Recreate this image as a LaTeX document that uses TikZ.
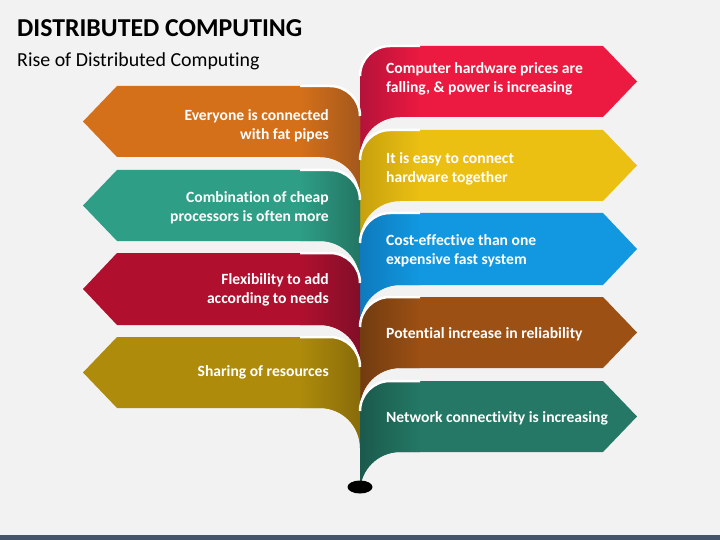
\documentclass[tikz,border=0pt]{standalone}
\usepackage{fontspec}
\setmainfont{Carlito}[Ligatures=NoCommon]
\definecolor{bg}{HTML}{F2F2F2}
\definecolor{barcol}{HTML}{44546A}
\definecolor{redA}{HTML}{EC1940}\definecolor{redB}{HTML}{B0123A}
\definecolor{oraA}{HTML}{D4701A}\definecolor{oraB}{HTML}{A0561C}
\definecolor{yelA}{HTML}{EBC012}\definecolor{yelB}{HTML}{C49E0E}
\definecolor{teaA}{HTML}{2E9E86}\definecolor{teaB}{HTML}{22725F}
\definecolor{bluA}{HTML}{1198E0}\definecolor{bluB}{HTML}{0E78BA}
\definecolor{crmA}{HTML}{B0102E}\definecolor{crmB}{HTML}{7E0E28}
\definecolor{brnA}{HTML}{9C5013}\definecolor{brnB}{HTML}{6E3A10}
\definecolor{oliA}{HTML}{AE8B0B}\definecolor{oliB}{HTML}{85690A}
\definecolor{grnA}{HTML}{247865}\definecolor{grnB}{HTML}{1A574A}
\tikzset{
  lbl/.style={text=white, font=\bfseries\fontsize{15.6}{19}\selectfont, inner sep=0pt},
  rlbl/.style={lbl, anchor=west, align=left},
  llbl/.style={lbl, anchor=east, align=right},
  gapline/.style={draw=white, line width=2.5pt},
}
% right ribbon: #1 top, #2 bottom, #3 flat colour, #4 dark colour
\newcommand\rightribbon[4]{%
  \begin{scope}
    \clip (360,#1+30) .. controls (360,#1+13.4) and (373.4,#1) .. (390,#1) -- (603,#1) -- (637,{(#1+#2)/2}) -- (603,#2) -- (400,#2) .. controls (377.9,#2) and (360,#2+17.9) .. (360,#2+40) -- cycle;
    \fill[#3] (355,#1-5) rectangle (645,#2+45);
    \shade[left color=#4, right color=#3] (355,#1-5) rectangle (420,#2+45);
  \end{scope}
  \draw[gapline] (360,#1+30) .. controls (360,#1+13.4) and (373.4,#1) .. (390,#1) -- (420,#1);
}
% left ribbon
\newcommand\leftribbon[4]{%
  \begin{scope}
    \clip (360,#1+30) .. controls (360,#1+13.4) and (346.6,#1) .. (330,#1) -- (117,#1) -- (83,{(#1+#2)/2}) -- (117,#2) -- (320,#2) .. controls (342.1,#2) and (360,#2+17.9) .. (360,#2+40) -- cycle;
    \fill[#3] (75,#1-5) rectangle (365,#2+45);
    \shade[left color=#3, right color=#4] (300,#1-5) rectangle (365,#2+45);
  \end{scope}
  \draw[gapline] (360,#1+30) .. controls (360,#1+13.4) and (346.6,#1) .. (330,#1) -- (300,#1);
}
\begin{document}
\begin{tikzpicture}[x=1pt,y=-1pt]
  \useasboundingbox (0,0) rectangle (720,540);
  \fill[bg] (0,0) rectangle (720,540);
  \fill[barcol] (0,535) rectangle (720,540);

  \node[anchor=base west, inner sep=0pt, font=\bfseries\fontsize{25.8}{30}\selectfont] (title) at (17,37) {DISTRIBUTED COMPUTING};
  \node[anchor=base west, inner sep=0pt, font=\fontsize{19.9}{24}\selectfont] (subtitle) at (17,67) {Rise of Distributed Computing};

  \rightribbon{46}{117}{redA}{redB}
  \leftribbon{86}{157}{oraA}{oraB}
  \rightribbon{130}{201}{yelA}{yelB}
  \leftribbon{170}{241}{teaA}{teaB}
  \rightribbon{213}{285}{bluA}{bluB}
  \leftribbon{253}{325}{crmA}{crmB}
  \rightribbon{297}{368}{brnA}{brnB}
  \leftribbon{337}{408}{oliA}{oliB}
  \rightribbon{381}{452}{grnA}{grnB}

  \fill[black] (360,487) ellipse [x radius=12.5, y radius=6.5];

  \node[rlbl] (r1) at (386,79) {Computer hardware prices are\\falling, \& power is increasing};
  \node[rlbl] (r2) at (386,169) {It is easy to connect\\hardware together};
  \node[rlbl] (r3) at (386,251) {Cost-effective than one\\expensive fast system};
  \node[rlbl] (r4) at (386,334.5) {Potential increase in reliability};
  \node[rlbl] (r5) at (386,418.5) {Network connectivity is increasing};

  \node[llbl] (l1) at (329,125.5) {Everyone is connected\\with fat pipes};
  \node[llbl] (l2) at (329,208) {Combination of cheap\\processors is often more};
  \node[llbl] (l3) at (329,290) {Flexibility to add\\according to needs};
  \node[llbl] (l4) at (329,372.5) {Sharing of resources};
\end{tikzpicture}
\end{document}
